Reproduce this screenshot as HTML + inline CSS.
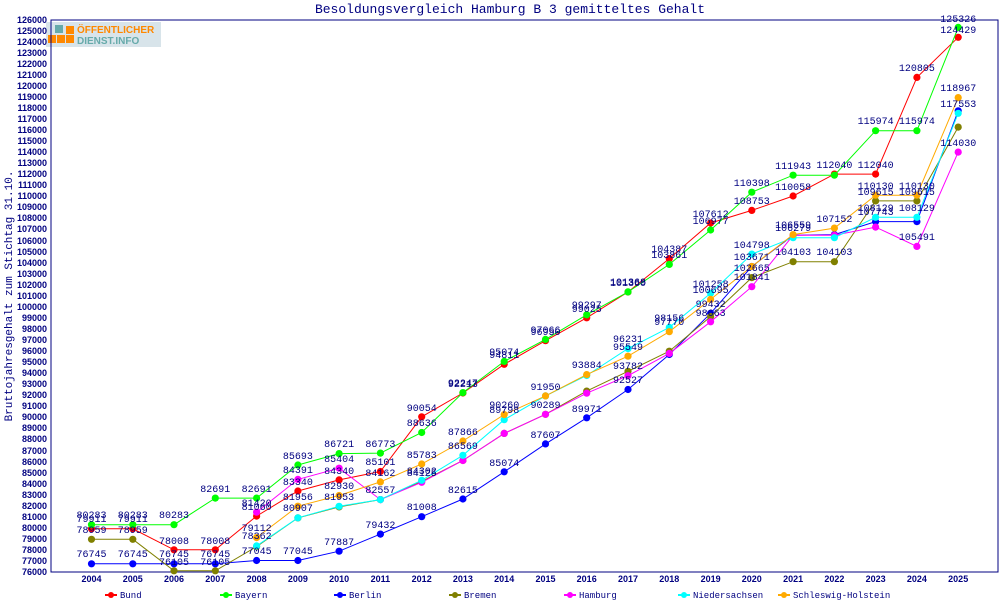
<!DOCTYPE html>
<html><head><meta charset="utf-8"><style>
html,body{margin:0;padding:0;background:#fff;width:1000px;height:600px;overflow:hidden}
svg{display:block}
.yl{font:bold 9px "Liberation Sans",sans-serif;fill:#000080;text-anchor:end}
.xl{font:bold 9px "Liberation Sans",sans-serif;fill:#000080;text-anchor:middle}
.v{font:10px "Liberation Mono",monospace;fill:#000080;text-anchor:middle}
.lg{font:9px "Liberation Mono",monospace;fill:#000080}
polyline{fill:none;stroke-width:1}
</style></head><body>
<svg width="1000" height="600" viewBox="0 0 1000 600" xmlns="http://www.w3.org/2000/svg">
<defs>
<marker id="mr" markerWidth="10" markerHeight="10" refX="5" refY="5" markerUnits="userSpaceOnUse"><circle cx="5" cy="5" r="3.6" fill="#f00"/></marker>
<marker id="mg" markerWidth="10" markerHeight="10" refX="5" refY="5" markerUnits="userSpaceOnUse"><circle cx="5" cy="5" r="3.6" fill="#0f0"/></marker>
<marker id="mb" markerWidth="10" markerHeight="10" refX="5" refY="5" markerUnits="userSpaceOnUse"><circle cx="5" cy="5" r="3.6" fill="#00f"/></marker>
<marker id="mo" markerWidth="10" markerHeight="10" refX="5" refY="5" markerUnits="userSpaceOnUse"><circle cx="5" cy="5" r="3.6" fill="#808000"/></marker>
<marker id="mm" markerWidth="10" markerHeight="10" refX="5" refY="5" markerUnits="userSpaceOnUse"><circle cx="5" cy="5" r="3.6" fill="#f0f"/></marker>
<marker id="mc" markerWidth="10" markerHeight="10" refX="5" refY="5" markerUnits="userSpaceOnUse"><circle cx="5" cy="5" r="3.6" fill="#0ff"/></marker>
<marker id="my" markerWidth="10" markerHeight="10" refX="5" refY="5" markerUnits="userSpaceOnUse"><circle cx="5" cy="5" r="3.6" fill="#fa0"/></marker>
</defs>
<text x="510" y="13" style="font:13px 'Liberation Mono',monospace;fill:#000080" text-anchor="middle">Besoldungsvergleich Hamburg B 3 gemitteltes Gehalt</text>
<text transform="translate(12,296) rotate(-90)" style="font:11px 'Liberation Mono',monospace;fill:#000080" text-anchor="middle">Bruttojahresgehalt zum Stichtag 31.10.</text>
<!-- logo -->
<rect x="46" y="22" width="115" height="25" fill="#d8e4ea"/>
<rect x="55" y="25" width="8" height="8" fill="#6aa"/><rect x="66" y="26" width="8" height="8" fill="#f80"/>
<rect x="48" y="35" width="8" height="8" fill="#f80"/><rect x="57" y="35" width="8" height="8" fill="#f80"/><rect x="66" y="35" width="8" height="8" fill="#f80"/>
<text x="77" y="33" style="font:bold 10px 'Liberation Sans',sans-serif;fill:#f80">ÖFFENTLICHER</text>
<text x="77" y="44" style="font:bold 10px 'Liberation Sans',sans-serif;fill:#6aa">DIENST.INFO</text>
<!-- frame -->
<path d="M51,20H998V572H51Z" fill="none" stroke="#000080" stroke-width="1"/>
<g stroke="#000080">
<path d="M51,572H998"/>
</g>
<!-- y labels -->
<g class="yl">
<text x="47" y="575">76000</text><text x="47" y="564">77000</text><text x="47" y="553">78000</text><text x="47" y="542">79000</text><text x="47" y="531">80000</text><text x="47" y="520">81000</text><text x="47" y="509">82000</text><text x="47" y="498">83000</text><text x="47" y="487">84000</text><text x="47" y="476">85000</text><text x="47" y="465">86000</text><text x="47" y="454">87000</text><text x="47" y="442">88000</text><text x="47" y="431">89000</text><text x="47" y="420">90000</text><text x="47" y="409">91000</text><text x="47" y="398">92000</text><text x="47" y="387">93000</text><text x="47" y="376">94000</text><text x="47" y="365">95000</text><text x="47" y="354">96000</text><text x="47" y="343">97000</text><text x="47" y="332">98000</text><text x="47" y="321">99000</text><text x="47" y="310">100000</text><text x="47" y="299">101000</text><text x="47" y="288">102000</text><text x="47" y="277">103000</text><text x="47" y="266">104000</text><text x="47" y="255">105000</text><text x="47" y="244">106000</text><text x="47" y="232">107000</text><text x="47" y="221">108000</text><text x="47" y="210">109000</text><text x="47" y="199">110000</text><text x="47" y="188">111000</text><text x="47" y="177">112000</text><text x="47" y="166">113000</text><text x="47" y="155">114000</text><text x="47" y="144">115000</text><text x="47" y="133">116000</text><text x="47" y="122">117000</text><text x="47" y="111">118000</text><text x="47" y="100">119000</text><text x="47" y="89">120000</text><text x="47" y="78">121000</text><text x="47" y="67">122000</text><text x="47" y="56">123000</text><text x="47" y="45">124000</text><text x="47" y="34">125000</text><text x="47" y="23">126000</text>
</g>
<g class="xl">
<text x="91.5" y="582">2004</text><text x="132.8" y="582">2005</text><text x="174" y="582">2006</text><text x="215.3" y="582">2007</text><text x="256.6" y="582">2008</text><text x="297.9" y="582">2009</text><text x="339.1" y="582">2010</text><text x="380.4" y="582">2011</text><text x="421.7" y="582">2012</text><text x="462.9" y="582">2013</text><text x="504.2" y="582">2014</text><text x="545.5" y="582">2015</text><text x="586.7" y="582">2016</text><text x="628" y="582">2017</text><text x="669.3" y="582">2018</text><text x="710.6" y="582">2019</text><text x="751.8" y="582">2020</text><text x="793.1" y="582">2021</text><text x="834.4" y="582">2022</text><text x="875.6" y="582">2023</text><text x="916.9" y="582">2024</text><text x="958.2" y="582">2025</text>
</g>
<!-- series -->
<polyline stroke="#f00" marker-start="url(#mr)" marker-mid="url(#mr)" marker-end="url(#mr)" points="91.5,528.8 132.8,528.8 174,549.8 215.3,549.8 256.6,516.1 297.9,491 339.1,479.9 380.4,471.5 421.7,416.8 462.9,393 504.2,364.3 545.5,340.7 586.7,317.8 628,292 669.3,258.6 710.6,223 751.8,210.4 793.1,196 834.4,174.1 875.6,174.1 916.9,77.4 958.2,37.3"/>
<polyline stroke="#0f0" marker-start="url(#mg)" marker-mid="url(#mg)" marker-end="url(#mg)" points="91.5,524.7 132.8,524.7 174,524.7 215.3,498.1 256.6,498.1 297.9,465 339.1,453.6 380.4,453.1 421.7,432.5 462.9,392.6 504.2,361.4 545.5,339.4 586.7,314.8 628,291.9 669.3,264.4 710.6,230 751.8,192.2 793.1,175.2 834.4,175.2 875.6,130.7 916.9,130.7 958.2,27.4"/>
<polyline stroke="#00f" marker-start="url(#mb)" marker-mid="url(#mb)" marker-end="url(#mb)" points="91.5,563.8 132.8,563.8 174,563.8 215.3,563.8 256.6,560.5 297.9,560.5 339.1,551.2 380.4,534.1 421.7,516.7 462.9,499 504.2,471.8 545.5,443.9 586.7,417.8 628,389.5 669.3,354.5 710.6,313.3 751.8,266.5 793.1,235.3 834.4,234.6 875.6,221.6 916.9,221.6 958.2,110.8"/>
<polyline stroke="#808000" marker-start="url(#mo)" marker-mid="url(#mo)" marker-end="url(#mo)" points="91.5,539.3 132.8,539.3 174,570.8 215.3,570.8 256.6,546.6 297.9,517.9 339.1,506.9 380.4,499.6 421.7,481.5 462.9,460.5 504.2,433.4 545.5,414.3 586.7,391.1 628,371.3 669.3,351.2 710.6,316.6 751.8,277.6 793.1,261.7 834.4,261.7 875.6,200.9 916.9,200.9 958.2,127.1"/>
<polyline stroke="#f0f" marker-start="url(#mm)" marker-mid="url(#mm)" marker-end="url(#mm)" points="256.6,512.2 297.9,479.4 339.1,468.2 380.4,499.6 421.7,482.3 462.9,460.5 504.2,433.4 545.5,414.3 586.7,393.2 628,375.7 669.3,353.4 710.6,321.8 751.8,286.7 793.1,235.3 834.4,235.3 875.6,227.1 916.9,246.4 958.2,152.1"/>
<polyline stroke="#0ff" marker-start="url(#mc)" marker-mid="url(#mc)" marker-end="url(#mc)" points="256.6,545.9 297.9,517.8 339.1,506.3 380.4,499.6 421.7,480.3 462.9,455.3 504.2,419.7 545.5,395.9 586.7,375.5 628,348.6 669.3,327.4 710.6,293.2 751.8,254.1 793.1,237.7 834.4,237.7 875.6,217.3 916.9,217.3 958.2,113.3"/>
<polyline stroke="#fa0" marker-start="url(#my)" marker-mid="url(#my)" marker-end="url(#my)" points="256.6,537.6 297.9,506.2 339.1,495.5 380.4,481.9 421.7,464 462.9,441 504.2,414.6 545.5,395.9 586.7,374.6 628,356.2 669.3,331.7 710.6,299.4 751.8,266.5 793.1,234.6 834.4,228.1 875.6,195.2 916.9,195.2 958.2,97.6"/>
<!-- value labels -->
<g class="v">
<text x="91.5" y="522">79911</text><text x="132.8" y="522">79911</text><text x="174" y="544">78008</text><text x="215.3" y="544">78008</text><text x="256.6" y="510">81060</text><text x="297.9" y="485">83340</text><text x="339.1" y="474">84340</text><text x="380.4" y="465">85101</text><text x="421.7" y="411">90054</text><text x="462.9" y="387">92213</text><text x="504.2" y="358">94811</text><text x="545.5" y="335">96950</text><text x="586.7" y="312">99025</text><text x="628" y="286">101360</text><text x="669.3" y="252">104387</text><text x="710.6" y="217">107612</text><text x="751.8" y="204">108753</text><text x="793.1" y="190">110058</text><text x="834.4" y="168">112040</text><text x="875.6" y="168">112040</text><text x="916.9" y="71">120805</text><text x="958.2" y="33">124429</text>
<text x="91.5" y="518">80283</text><text x="132.8" y="518">80283</text><text x="174" y="518">80283</text><text x="215.3" y="492">82691</text><text x="256.6" y="492">82691</text><text x="297.9" y="459">85693</text><text x="339.1" y="447">86721</text><text x="380.4" y="447">86773</text><text x="421.7" y="426">88636</text><text x="462.9" y="386">92247</text><text x="504.2" y="355">95074</text><text x="545.5" y="333">97066</text><text x="586.7" y="308">99297</text><text x="628" y="285">101368</text><text x="669.3" y="258">103861</text><text x="710.6" y="224">106977</text><text x="751.8" y="186">110398</text><text x="793.1" y="169">111943</text><text x="875.6" y="124">115974</text><text x="916.9" y="124">115974</text><text x="958.2" y="22">125326</text>
<text x="91.5" y="557">76745</text><text x="132.8" y="557">76745</text><text x="174" y="557">76745</text><text x="215.3" y="557">76745</text><text x="256.6" y="554">77045</text><text x="297.9" y="554">77045</text><text x="339.1" y="545">77887</text><text x="380.4" y="528">79432</text><text x="421.7" y="510">81008</text><text x="462.9" y="493">82615</text><text x="504.2" y="466">85074</text><text x="545.5" y="438">87607</text><text x="586.7" y="412">89971</text><text x="628" y="383">92527</text><text x="710.6" y="307">99432</text><text x="751.8" y="260">103671</text><text x="875.6" y="215">107743</text>
<text x="91.5" y="533">78959</text><text x="132.8" y="533">78959</text><text x="174" y="565">76105</text><text x="215.3" y="565">76105</text><text x="751.8" y="271">102665</text><text x="793.1" y="255">104103</text><text x="834.4" y="255">104103</text><text x="875.6" y="195">109615</text><text x="916.9" y="195">109615</text>
<text x="256.6" y="506">81420</text><text x="297.9" y="473">84391</text><text x="339.1" y="462">85404</text><text x="421.7" y="476">84125</text><text x="545.5" y="408">90289</text><text x="628" y="369">93782</text><text x="710.6" y="316">98663</text><text x="751.8" y="280">101841</text><text x="916.9" y="240">105491</text><text x="958.2" y="146">114030</text>
<text x="256.6" y="539">78362</text><text x="297.9" y="511">80907</text><text x="339.1" y="500">81953</text><text x="380.4" y="493">82557</text><text x="421.7" y="474">84302</text><text x="462.9" y="449">86569</text><text x="504.2" y="413">89798</text><text x="628" y="342">96231</text><text x="669.3" y="321">98156</text><text x="710.6" y="287">101258</text><text x="751.8" y="248">104798</text><text x="793.1" y="231">106279</text><text x="875.6" y="211">108129</text><text x="916.9" y="211">108129</text><text x="958.2" y="107">117553</text>
<text x="256.6" y="531">79112</text><text x="297.9" y="500">81956</text><text x="339.1" y="489">82930</text><text x="380.4" y="476">84162</text><text x="421.7" y="458">85783</text><text x="462.9" y="435">87866</text><text x="504.2" y="408">90260</text><text x="545.5" y="390">91950</text><text x="586.7" y="368">93884</text><text x="628" y="350">95549</text><text x="669.3" y="325">97770</text><text x="710.6" y="293">100695</text><text x="793.1" y="228">106559</text><text x="834.4" y="222">107152</text><text x="875.6" y="189">110130</text><text x="916.9" y="189">110130</text><text x="958.2" y="91">118967</text>
</g>
<!-- legend -->
<g stroke-width="2">
<path d="M105,595H117" stroke="#f00"/><circle cx="111" cy="595" r="3" fill="#f00"/>
<path d="M220,595H232" stroke="#0f0"/><circle cx="226" cy="595" r="3" fill="#0f0"/>
<path d="M334,595H346" stroke="#00f"/><circle cx="340" cy="595" r="3" fill="#00f"/>
<path d="M449,595H461" stroke="#808000"/><circle cx="455" cy="595" r="3" fill="#808000"/>
<path d="M564,595H576" stroke="#f0f"/><circle cx="570" cy="595" r="3" fill="#f0f"/>
<path d="M678,595H690" stroke="#0ff"/><circle cx="684" cy="595" r="3" fill="#0ff"/>
<path d="M778,595H790" stroke="#fa0"/><circle cx="784" cy="595" r="3" fill="#fa0"/>
</g>
<g class="lg">
<text x="120" y="598">Bund</text><text x="235" y="598">Bayern</text><text x="349" y="598">Berlin</text><text x="464" y="598">Bremen</text><text x="579" y="598">Hamburg</text><text x="693" y="598">Niedersachsen</text><text x="793" y="598">Schleswig-Holstein</text>
</g>
</svg>
</body></html>
